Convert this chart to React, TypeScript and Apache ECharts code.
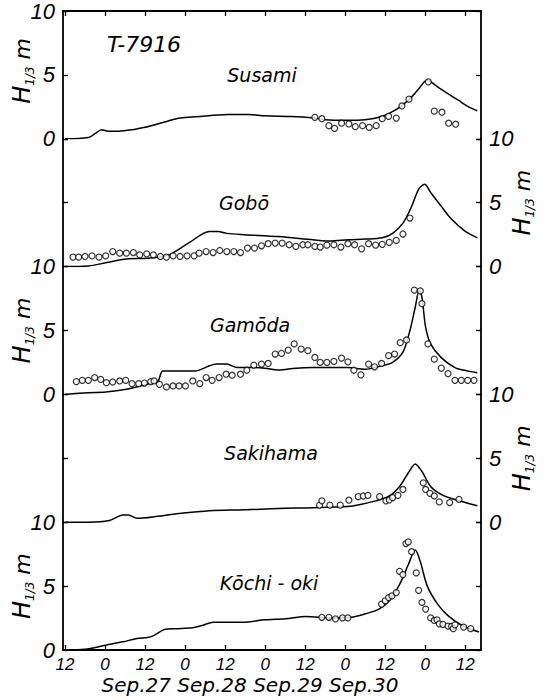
import React, { useEffect, useRef } from "react";
import * as echarts from "echarts";

// x = hours since Sep.26 12:00
const xTickHours = [0, 12, 24, 36, 48, 60, 72, 84, 96, 108, 120];
const xTickLabels = ["12", "0", "12", "0", "12", "0", "12", "0", "12", "0", "12"];
const yTicks = [0, 5, 10];
const dateLabel = "Sep.27 Sep.28 Sep.29 Sep.30";
const stormLabel = "T-7916";
const yTitle = "{h|H}{s|1/3}{m| m}";
const stations = ["Susami", "Gobō", "Gamōda", "Sakihama", "Kōchi - oki"];
const labelSides = ["left", "right", "left", "right", "left"];
const stationTextPos = [
  [262, 75],
  [244, 203],
  [250, 325],
  [271, 453],
  [269, 583],
];

const susamiModel = [
  [0, 0], [7, 0.1], [9, 0.4], [11, 0.7], [13, 0.6], [16, 0.6], [20, 0.7], [24, 0.9], [27, 1.1],
  [31, 1.4], [34, 1.6], [38, 1.7], [43, 1.8], [49, 1.9], [55, 1.9], [60, 1.8], [68, 1.75],
  [74, 1.65], [78, 1.5], [84, 1.45], [90, 1.5], [95, 1.75], [98, 2.1], [101, 2.6], [104, 3.3],
  [106, 3.9], [108.6, 4.6], [110, 4.4], [112, 4.0], [115, 3.5], [118, 3.0], [121, 2.5], [123.6, 2.2],
];
const susamiObs = [
  [74.9, 1.68], [77, 1.57], [79.1, 1.03], [80.8, 0.81], [82.9, 1.22], [85.1, 1.16], [87, 0.95],
  [89.2, 1.03], [91.2, 0.89], [93.3, 1.03], [95.1, 1.57], [97, 1.76], [99.3, 1.62], [101, 2.57],
  [103.1, 3.1], [108.9, 4.46], [110.7, 2.16], [113, 2.08], [115, 1.22], [117.1, 1.14],
];

const goboModel = [
  [0, 0], [7, 0.05], [12.2, 0.3], [18.4, 0.6], [24.7, 0.65], [30.9, 0.9], [37.1, 1.85],
  [43.3, 2.75], [45.9, 2.75], [48.5, 2.6], [53.7, 2.5], [64, 2.35], [74.4, 2.1], [79.6, 2.0],
  [84.8, 2.1], [89.9, 2.15], [95.1, 2.25], [98.2, 2.6], [101.3, 3.4], [103.9, 4.7], [106, 6.05],
  [107.8, 6.45], [109.6, 5.8], [112.7, 4.75], [115.9, 3.7], [120, 2.75], [123.6, 2.25],
];
const goboObs = [
  [2.4, 0.74], [4.1, 0.74], [6, 0.79], [8.1, 0.84], [10.2, 0.74], [12.2, 0.84], [14.3, 1.18],
  [16.4, 1.05], [18.4, 1.05], [20.5, 1.1], [22.4, 0.92], [24.5, 1.0], [26.5, 0.92], [28.6, 0.79],
  [30.4, 0.74], [32.4, 0.84], [34.5, 0.79], [36.6, 0.84], [38.7, 0.84], [40.2, 1.05], [42.3, 1.18],
  [44.4, 1.1], [46.4, 1.26], [48.5, 1.18], [50.6, 1.18], [52.6, 1.1], [54.7, 1.45], [56.8, 1.45],
  [58.9, 1.63], [60.9, 1.79], [63, 1.84], [65.1, 1.84], [67.2, 1.71], [69.2, 1.58], [71.3, 1.71],
  [72.8, 1.71], [74.9, 1.58], [76.5, 1.53], [78.5, 1.68], [80.6, 1.71], [82.7, 1.53], [84.8, 1.79],
  [86.8, 1.71], [88.9, 1.39], [91, 1.79], [93.1, 1.68], [95.1, 1.74], [97.2, 1.89], [99.3, 2.05],
  [101.3, 2.55], [103.4, 3.8],
];

const gamodaModel = [
  [0, 0], [7, 0.13], [12.2, 0.18], [18.4, 0.4], [24.7, 0.8], [27.8, 1.0], [29.3, 1.84], [33, 1.84],
  [39.2, 1.84], [43.3, 2.24], [45.4, 2.37], [48.5, 2.37], [51.6, 2.1], [55.8, 2.1], [59.9, 2.05],
  [64, 1.9], [69.2, 2.05], [74.4, 2.1], [84.8, 2.1], [89.9, 1.97], [95.1, 2.24], [98.2, 2.5],
  [101.3, 3.3], [103.4, 5.0], [105, 6.84], [106.2, 8.16], [107, 7.6], [108.1, 5.26], [109.6, 3.95],
  [112.7, 2.9], [116.9, 2.1], [120.5, 1.84], [123.6, 1.7],
];
const gamodaObs = [
  [3.4, 1.0], [5.2, 1.1], [7, 1.1], [8.9, 1.32], [10.7, 1.18], [12.4, 0.92], [14.3, 0.97],
  [16.4, 1.05], [18.2, 1.1], [20.1, 0.84], [22.1, 0.84], [23.8, 0.89], [25.7, 1.0], [26.7, 1.05],
  [28.3, 0.79], [30.4, 0.58], [32.4, 0.66], [34.2, 0.66], [36.1, 0.66], [38.3, 1.05], [40.4, 0.84],
  [42.3, 1.32], [44.1, 1.1], [46.2, 1.32], [48.3, 1.58], [50.1, 1.5], [52.6, 1.58], [54.5, 1.89],
  [56.6, 2.29], [58.9, 2.37], [60.9, 2.42], [63, 3.16], [64.9, 3.21], [66.9, 3.47], [68.7, 3.95],
  [70.8, 3.55], [72.8, 3.42], [74.9, 2.89], [76.5, 2.5], [78.5, 2.5], [80.6, 2.58], [82.9, 2.84],
  [84.8, 2.55], [86.6, 1.89], [88.7, 1.53], [91, 2.37], [92.8, 2.16], [94.9, 2.42], [97, 3.03],
  [98.8, 3.16], [100.5, 4.05], [102.4, 4.26], [104.7, 8.16], [106.5, 8.1], [107, 7.1], [108.8, 3.95],
  [110.7, 2.76], [112.8, 2.05], [114.8, 1.63], [116.9, 1.1], [118.8, 1.1], [120.7, 1.1], [122.6, 1.1],
];

const sakihamaModel = [
  [0, 0], [7, 0], [13.3, 0.13], [17.4, 0.56], [19, 0.56], [21.6, 0.3], [27.8, 0.46], [33, 0.64],
  [43.3, 0.9], [53.7, 0.97], [64, 1.08], [74.4, 1.13], [84.8, 1.23], [88.9, 1.41], [93.1, 1.67],
  [97.2, 2.05], [100.3, 2.8], [102.9, 3.85], [105, 4.56], [107, 3.97], [109.6, 2.8], [112.7, 2.18],
  [115.9, 1.85], [120, 1.54], [123.6, 1.28],
];
const sakihamaObs = [
  [76.3, 1.33], [77, 1.67], [79.4, 1.33], [82.5, 1.33], [85.1, 1.72], [87.9, 2.0], [89.4, 2.05],
  [90.8, 2.1], [94.3, 2.0], [96.2, 1.67], [97.2, 1.74], [98.2, 1.92], [99.8, 2.1], [101.3, 2.56],
  [107.4, 3.08], [108.1, 2.56], [109.4, 2.26], [110.7, 2.05], [112.2, 1.59], [115.3, 1.54], [118.1, 1.79],
];

const kochiModel = [
  [0, 0], [6, 0.05], [12.2, 0.38], [17.4, 0.64], [21.6, 0.9], [24.7, 0.97], [26.7, 1.15], [29.8, 1.6],
  [33, 1.67], [38.1, 1.74], [41.2, 1.92], [44.4, 2.18], [48.5, 2.18], [53.7, 2.18], [59.9, 2.36],
  [66.1, 2.44], [72.3, 2.62], [79.6, 2.51], [85.8, 2.56], [89.9, 2.82], [94.1, 3.2], [97.2, 3.85],
  [100.3, 5.13], [102.9, 6.67], [105, 7.82], [106.5, 6.92], [108.6, 5.0], [111.7, 3.59],
  [114.8, 2.69], [119, 1.92], [124.1, 1.41],
];
const kochiObs = [
  [77, 2.56], [79.1, 2.56], [81.1, 2.44], [83.2, 2.51], [84.8, 2.51], [94.9, 3.59], [96, 3.85],
  [97, 4.1], [98, 4.23], [99.3, 4.49], [100.3, 6.15], [101.3, 5.9], [102.2, 8.33], [102.9, 8.46],
  [103.9, 7.69], [105.3, 6.03], [106, 4.67], [107, 3.72], [108.1, 3.2], [109.6, 2.51], [110.7, 2.31],
  [111.5, 2.36], [112.2, 2.05], [113.3, 2.0], [114.8, 1.87], [115.9, 1.85], [116.4, 1.67],
  [116.9, 1.97], [119.5, 1.79], [121.6, 1.67],
];

const models = [susamiModel, goboModel, gamodaModel, sakihamaModel, kochiModel];
const observations = [susamiObs, goboObs, gamodaObs, sakihamaObs, kochiObs];

const FONT = "DejaVu Sans";
const NUM_FONT = "Liberation Sans";
const INK = "#000";

export default function App() {
  const ref = useRef<HTMLDivElement>(null);
  useEffect(() => {
    if (!ref.current) return;
    const chart = echarts.init(ref.current, null, { renderer: "svg" });
    const top0 = 11;
    const panelH = 127.8;
    const left = 63;
    const right = 63;
    const width = 544;
    const grids: any[] = [];
    const xAxes: any[] = [];
    const yAxes: any[] = [];
    const series: any[] = [];
    const nameRich = {
      h: { fontSize: 24, fontStyle: "italic", fontFamily: FONT, fill: INK, lineHeight: 28 },
      s: { fontSize: 12, fontStyle: "italic", fontFamily: FONT, fill: INK, lineHeight: 28, verticalAlign: "bottom", padding: [12, 0, 0, 0] },
      m: { fontSize: 22, fontStyle: "italic", fontFamily: FONT, fill: INK, lineHeight: 28 },
    };
    const texts: any[] = [];
    for (let i = 0; i < 5; i++) {
      grids.push({
        left,
        right,
        top: top0 + i * panelH,
        height: panelH,
        containLabel: false,
        outerBoundsMode: "none",
      });
      const isTop = i === 0;
      const isBottom = i === 4;
      xAxes.push({
        type: "value",
        gridIndex: i,
        min: -0.6,
        max: 124.7,
        position: isTop ? "top" : "bottom",
        show: isTop || isBottom,
        axisLine: { show: true, onZero: false, lineStyle: { color: INK, width: 1.8 } },
        axisTick: {
          show: true,
          inside: true,
          length: 5,
          customValues: xTickHours,
          lineStyle: { color: INK, width: 1.3 },
        },
        axisLabel: {
          show: isBottom,
          margin: 6,
          fontSize: 17,
          fontStyle: "italic",
          fontFamily: NUM_FONT,
          color: INK,
          customValues: xTickHours,
          formatter: (v: number) => xTickLabels[xTickHours.indexOf(Math.round(v))] ?? "",
        },
        splitLine: { show: false },
      });
      for (const side of ["left", "right"]) {
        const labelled = labelSides[i] === side;
        yAxes.push({
          type: "value",
          gridIndex: i,
          position: side,
          min: yTicks[0],
          max: yTicks[yTicks.length - 1],
          interval: 5,
          axisLine: { show: true, onZero: false, lineStyle: { color: INK, width: 1.8 } },
          axisTick: { show: true, inside: true, length: 5, lineStyle: { color: INK, width: 1.3 } },
          axisLabel: {
            show: labelled,
            margin: 8,
            fontSize: 22,
            lineHeight: 20,
            fontStyle: "italic",
            fontFamily: NUM_FONT,
            color: INK,
            showMinLabel: true,
            showMaxLabel: true,
          },
          splitLine: { show: false },
        });
      }
      // axis title, rotated to read upward
      const isLeft = labelSides[i] === "left";
      texts.push({
        type: "text",
        x: isLeft ? 22 : width - right + 41,
        y: top0 + i * panelH + panelH / 2 - (i === 0 ? 4 : 0),
        rotation: Math.PI / 2,
        style: {
          text: yTitle,
          rich: nameRich,
          fill: INK,
          align: "center",
          verticalAlign: "middle",
        },
      });
      series.push({
        type: "line",
        xAxisIndex: i,
        yAxisIndex: i * 2,
        data: models[i],
        showSymbol: false,
        smooth: 0.3,
        lineStyle: { color: INK, width: 1.5 },
        z: 2,
      });
      series.push({
        type: "scatter",
        xAxisIndex: i,
        yAxisIndex: i * 2,
        data: observations[i],
        symbol: "circle",
        symbolSize: 6,
        itemStyle: { color: "#fff", borderColor: INK, borderWidth: 1.2 },
        z: 3,
      });
    }
    stations.forEach((s, i) =>
      texts.push({
        type: "text",
        x: stationTextPos[i][0],
        y: stationTextPos[i][1],
        style: {
          text: s,
          fontSize: 19,
          fontStyle: "italic",
          fontFamily: FONT,
          fill: INK,
          align: "center",
          verticalAlign: "middle",
        },
      })
    );
    texts.push({
      type: "text",
      x: 144,
      y: 44,
      style: { text: stormLabel, fontSize: 22, fontStyle: "italic", fontFamily: FONT, fill: INK, align: "center", verticalAlign: "middle" },
    });
    texts.push({
      type: "text",
      x: 250,
      y: 685,
      style: { text: dateLabel, fontSize: 20, fontStyle: "italic", fontFamily: FONT, fill: INK, align: "center", verticalAlign: "middle" },
    });
    chart.setOption({
      animation: false,
      backgroundColor: "#fff",
      grid: grids,
      xAxis: xAxes,
      yAxis: yAxes,
      series,
      graphic: texts,
    });
    return () => chart.dispose();
  }, []);
  return (
    <div
      ref={ref}
      style={{ position: "absolute", left: 0, top: 0, width: 544, height: 700 }}
    />
  );
}
